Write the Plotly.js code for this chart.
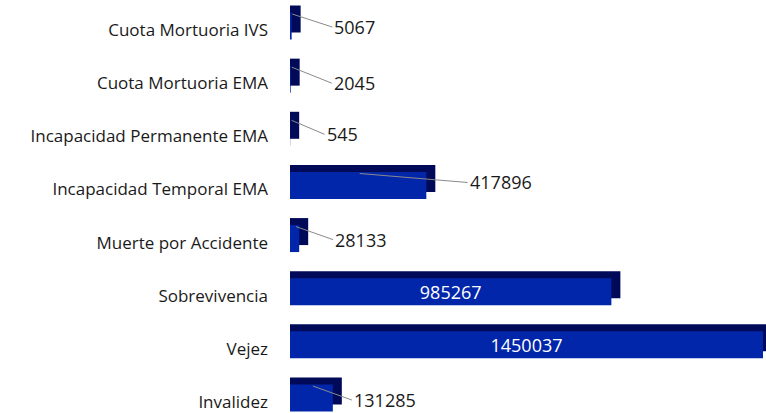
<!DOCTYPE html>
<html>
<head>
<meta charset="utf-8">
<script src="https://cdn.plot.ly/plotly-3.0.1.min.js"></script>
<style>html,body{margin:0;padding:0;background:#fff;}#chart{width:766px;height:413px;}</style>
</head>
<body>
<div id="chart"></div>
<script>
// Categories from top to bottom as shown
var categories = ["Cuota Mortuoria IVS", "Cuota Mortuoria EMA", "Incapacidad Permanente EMA",
  "Incapacidad Temporal EMA", "Muerte por Accidente", "Sobrevivencia", "Vejez", "Invalidez"];
var values = [5067, 2045, 545, 417896, 28133, 985267, 1450037, 131285];
var labels = ["5067", "2045", "545", "417896", "28133", "985267", "1450037", "131285"];

// Plotly horizontal bars: first category at bottom, so reverse
var cats = categories.slice().reverse();
var vals = values.slice().reverse();
var labs = labels.slice().reverse();

var FONT = "'Open Sans', 'Noto Sans', sans-serif";
var pxPerUnit = 53.14;            // category spacing in px
var xPerPx = 3065.6;              // data units per px on x
var depthX = 9 * xPerPx;          // 3D depth, horizontal
var frontW = 27 / pxPerUnit;
var frontOff = (4 - 13.5) / pxPerUnit;
var backOff = (11 - 13.5) / pxPerUnit;

var inside = labs.map(function (l, i) { return vals[i] > 900000 ? l : ""; });

var back = {
  type: "bar", orientation: "h", y: cats,
  x: vals.map(function (v) { return v + depthX; }),
  width: frontW, offset: backOff,
  marker: {color: "#010A58", line: {width: 0}},
  hoverinfo: "skip", showlegend: false
};
var front = {
  type: "bar", orientation: "h", y: cats, x: vals,
  width: frontW, offset: frontOff,
  marker: {color: "#0226AA", line: {width: 0}},
  text: inside, textposition: "inside", insidetextanchor: "middle", constraintext: "none",
  textfont: {color: "#ffffff", size: 18, family: FONT},
  hoverinfo: "skip", showlegend: false
};

// outside labels with leader lines: [ax, ay]
var outsideCfg = {"5067": [40, 13], "2045": [40, 16], "545": [33, 14], "417896": [108, 9],
  "28133": [37, 13], "131285": [39, 14]};
var annotations = [];
labs.forEach(function (l, i) {
  if (outsideCfg[l]) {
    annotations.push({
      x: vals[i] / 2 + 1.5 * xPerPx, y: i + 0.3, xref: "x", yref: "y",
      text: l, showarrow: true, arrowhead: 0, arrowwidth: 1, arrowcolor: "#8a8a8a",
      ax: outsideCfg[l][0], ay: outsideCfg[l][1], xanchor: "left", yanchor: "middle",
      font: {color: "#1a1a1a", size: 18, family: FONT}
    });
  }
});

var layout = {
  width: 766, height: 413,
  margin: {l: 290, r: 0, t: 0, b: 0},
  paper_bgcolor: "#ffffff", plot_bgcolor: "#ffffff",
  barmode: "overlay",
  showlegend: false,
  xaxis: {range: [0, 476 * xPerPx], visible: false, fixedrange: true},
  yaxis: {type: "category", categoryorder: "array", categoryarray: cats,
    range: [-11 / pxPerUnit, 7 + 30 / pxPerUnit], showgrid: false, zeroline: false, showline: false,
    ticks: "", ticklen: 0, ticklabelstandoff: 21,
    tickfont: {color: "#1a1a1a", size: 17, family: FONT}},
  annotations: annotations
};

Plotly.newPlot("chart", [back, front], layout, {displayModeBar: false, staticPlot: true});
</script>
</body>
</html>
